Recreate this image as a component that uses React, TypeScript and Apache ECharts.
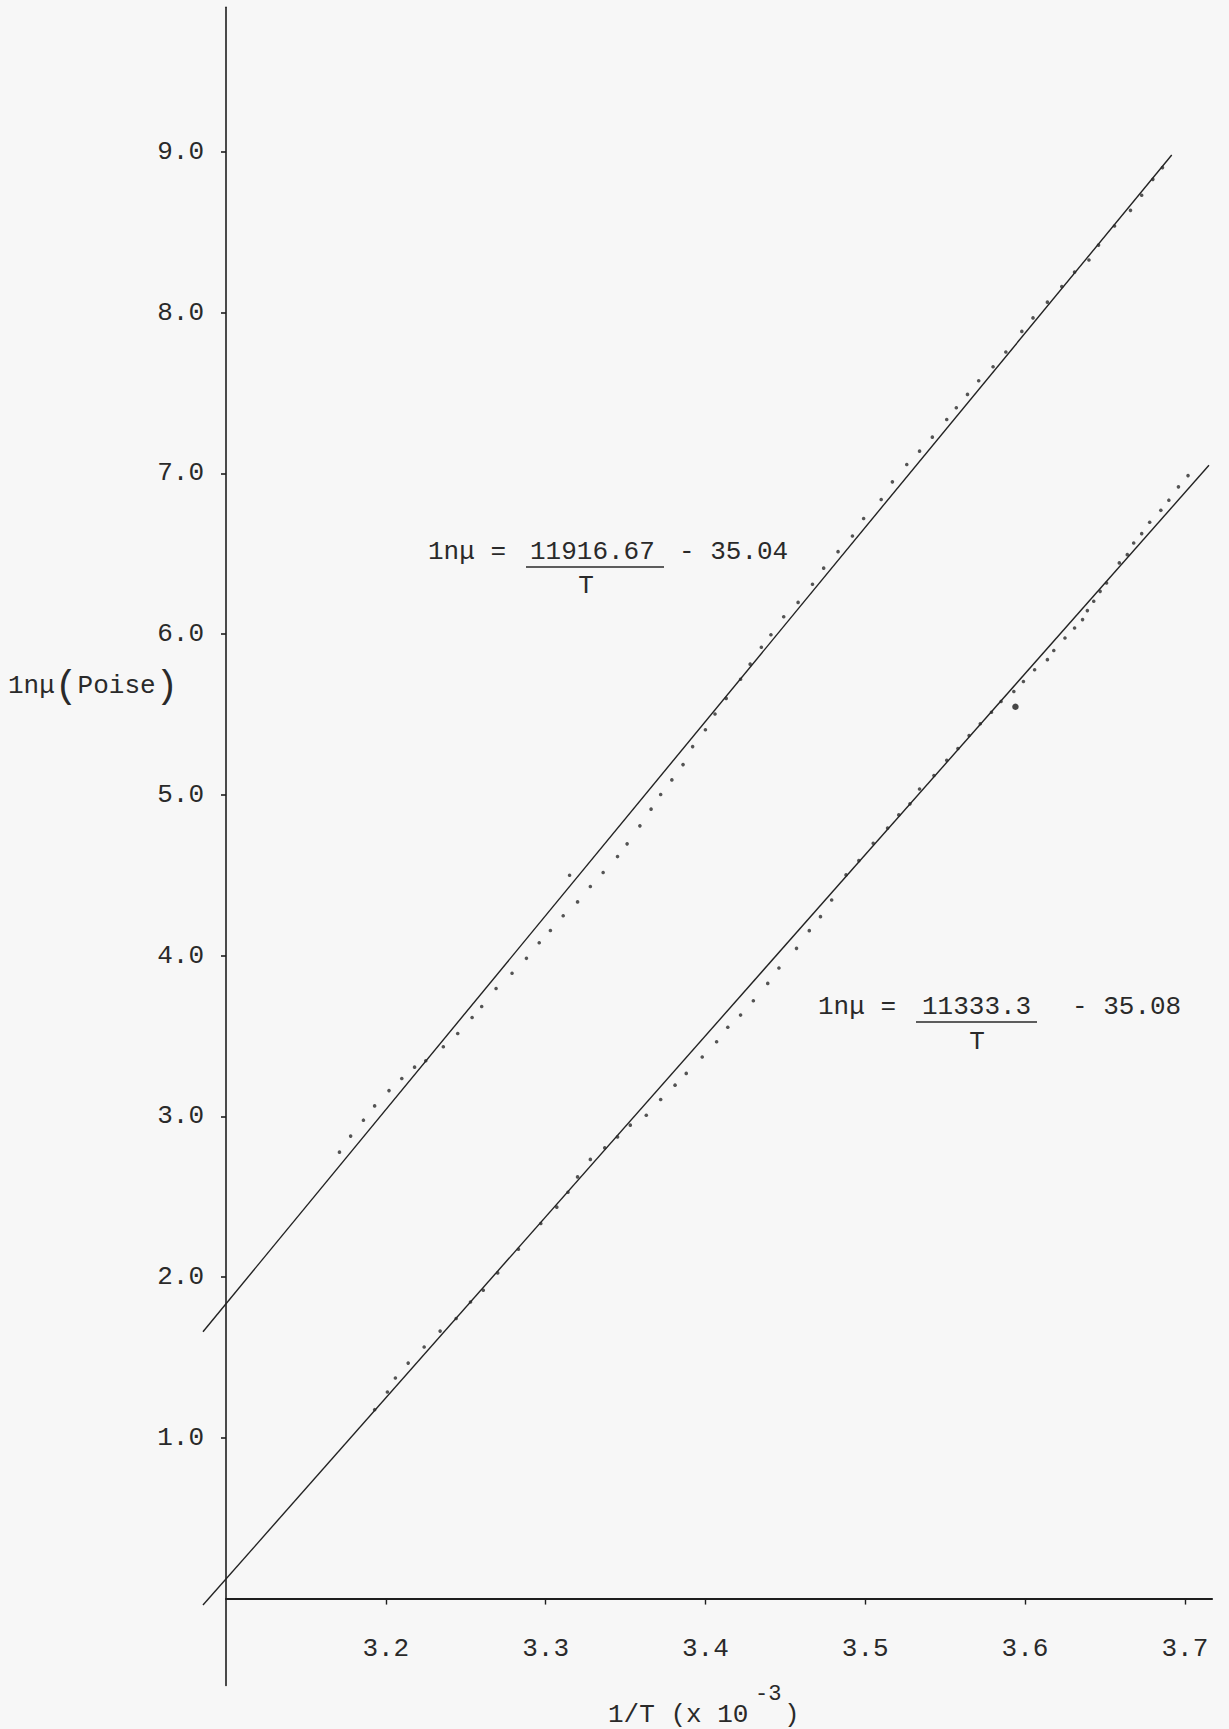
import React, { useEffect, useRef } from "react";
import * as echarts from "echarts";

// ---- data ----
const xTicks = [3.2, 3.3, 3.4, 3.5, 3.6, 3.7];
const yTicks = [1, 2, 3, 4, 5, 6, 7, 8, 9];

// upper data set (x = 1/T x 10^3, y = ln mu)
const upperDots: [number, number][] = [
  [3.171, 2.777], [3.178, 2.877], [3.186, 2.976], [3.193, 3.065], [3.202, 3.16], [3.21, 3.235],
  [3.218, 3.306], [3.225, 3.346], [3.236, 3.433], [3.245, 3.515], [3.254, 3.615], [3.26, 3.683],
  [3.269, 3.795], [3.279, 3.89], [3.288, 3.983], [3.296, 4.08], [3.303, 4.156], [3.311, 4.248],
  [3.315, 4.5], [3.32, 4.334], [3.328, 4.43], [3.336, 4.517], [3.345, 4.616], [3.351, 4.695],
  [3.359, 4.807], [3.366, 4.911], [3.372, 5.002], [3.379, 5.093], [3.386, 5.188], [3.392, 5.3],
  [3.4, 5.405], [3.406, 5.503], [3.413, 5.6], [3.422, 5.719], [3.428, 5.813], [3.435, 5.918],
  [3.441, 5.996], [3.449, 6.108], [3.458, 6.197], [3.467, 6.31], [3.474, 6.41], [3.483, 6.513],
  [3.492, 6.61], [3.499, 6.719], [3.51, 6.837], [3.517, 6.947], [3.526, 7.055], [3.534, 7.138],
  [3.542, 7.225], [3.551, 7.335], [3.557, 7.408], [3.564, 7.491], [3.571, 7.576], [3.58, 7.663],
  [3.588, 7.755], [3.598, 7.883], [3.605, 7.967], [3.614, 8.065], [3.623, 8.162], [3.631, 8.252],
  [3.64, 8.327], [3.646, 8.42], [3.656, 8.539], [3.666, 8.636], [3.673, 8.73], [3.68, 8.829],
  [3.686, 8.902],
];

// lower data set
const lowerDots: [number, number][] = [
  [3.193, 1.175], [3.201, 1.285], [3.206, 1.372], [3.214, 1.465], [3.224, 1.565], [3.234, 1.664],
  [3.244, 1.742], [3.253, 1.845], [3.261, 1.918], [3.27, 2.026], [3.283, 2.173], [3.297, 2.333],
  [3.307, 2.435], [3.314, 2.528], [3.32, 2.623], [3.328, 2.732], [3.337, 2.804], [3.345, 2.872],
  [3.353, 2.945], [3.363, 3.007], [3.372, 3.105], [3.381, 3.194], [3.388, 3.267], [3.398, 3.369],
  [3.407, 3.464], [3.414, 3.554], [3.422, 3.63], [3.43, 3.719], [3.439, 3.827], [3.446, 3.923],
  [3.457, 4.045], [3.465, 4.155], [3.472, 4.242], [3.479, 4.346], [3.488, 4.502], [3.496, 4.591],
  [3.505, 4.699], [3.514, 4.793], [3.521, 4.875], [3.528, 4.944], [3.534, 5.036], [3.543, 5.12],
  [3.551, 5.215], [3.558, 5.288], [3.565, 5.369], [3.572, 5.442], [3.579, 5.514], [3.585, 5.581],
  [3.593, 5.643], [3.599, 5.705], [3.606, 5.778], [3.614, 5.841], [3.618, 5.898], [3.625, 5.976],
  [3.631, 6.038], [3.636, 6.09], [3.639, 6.146], [3.643, 6.204], [3.647, 6.266], [3.651, 6.318],
  [3.659, 6.443], [3.664, 6.494], [3.668, 6.567], [3.673, 6.625], [3.678, 6.696], [3.685, 6.77],
  [3.69, 6.833], [3.696, 6.916], [3.702, 6.986],
];
const lowerOutlier: [number, number][] = [[3.594, 5.548]];

// fitted straight lines as drawn: [x1, y1, x2, y2]
const upperFit: number[] = [3.0856, 1.66, 3.6918, 8.98];
const lowerFit: number[] = [3.0856, -0.04, 3.7151, 7.05];

const X_MIN = 3.1;
const X_MAX = 3.717;
const Y_MIN = -0.54;
const Y_MAX = 9.9;

const FONT = '"Liberation Mono", "DejaVu Sans Mono", monospace';
const INK = "#2a2a2a";

export default function App() {
  const ref = useRef<HTMLDivElement>(null);

  useEffect(() => {
    if (!ref.current) return;
    const chart = echarts.init(ref.current, null, { renderer: "svg" });
    const f = (s: number) => `${s}px ${FONT}`;
    const txt = (text: string, x: number, y: number, align = "left", size = 26) => ({
      type: "text",
      x,
      y,
      silent: true,
      style: { text, font: f(size), fill: INK, textAlign: align, textVerticalAlign: "middle" },
    });
    const uline = (x1: number, x2: number, y: number) => ({
      type: "line",
      silent: true,
      shape: { x1, y1: y, x2, y2: y },
      style: { stroke: INK, lineWidth: 1.6 },
    });
    const fitSeries = (seg: number[]) => ({
      type: "custom",
      clip: false,
      silent: true,
      z: 2,
      data: [seg],
      encode: { x: [0, 2], y: [1, 3] },
      renderItem: (_p: any, api: any) => {
        const a = api.coord([api.value(0), api.value(1)]);
        const b = api.coord([api.value(2), api.value(3)]);
        return {
          type: "line",
          shape: { x1: a[0], y1: a[1], x2: b[0], y2: b[1] },
          style: { stroke: "#222", lineWidth: 1.4, fill: null },
        };
      },
    });

    chart.setOption({
      animation: false,
      backgroundColor: "#f7f7f7",
      grid: {
        left: 226,
        top: 7.175,
        width: 986,
        height: 1678.2,
        containLabel: false,
        outerBoundsMode: "none",
      },
      xAxis: {
        type: "value",
        min: X_MIN,
        max: X_MAX,
        minInterval: 0.1,
        maxInterval: 0.1,
        splitLine: { show: false },
        axisLine: { onZero: true, lineStyle: { color: "#1e1e1e", width: 2.2 } },
        axisTick: { length: 6, customValues: xTicks, lineStyle: { color: "#1e1e1e", width: 1.4 } },
        axisLabel: {
          customValues: xTicks,
          margin: -49,
          fontFamily: FONT,
          fontSize: 26,
          color: INK,
          formatter: (v: number) =>
            v > 3.15 && Math.abs(v * 10 - Math.round(v * 10)) < 1e-6 ? v.toFixed(1) : "",
        },
      },
      yAxis: {
        type: "value",
        min: Y_MIN,
        max: Y_MAX,
        minInterval: 1,
        maxInterval: 1,
        splitLine: { show: false },
        axisLine: { onZero: false, lineStyle: { color: "#1e1e1e", width: 1.6 } },
        axisTick: { length: 5, customValues: yTicks, lineStyle: { color: "#1e1e1e", width: 1.6 } },
        axisLabel: {
          customValues: yTicks,
          margin: 22,
          fontFamily: FONT,
          fontSize: 26,
          color: INK,
          formatter: (v: number) =>
            v >= 0.9 && Math.abs(v - Math.round(v)) < 1e-6 ? v.toFixed(1) : "",
        },
      },
      series: [
        fitSeries(upperFit),
        fitSeries(lowerFit),
        {
          type: "scatter",
          data: upperDots,
          symbol: "circle",
          symbolSize: 3.6,
          itemStyle: { color: "#2a2a2a" },
          z: 3,
        },
        {
          type: "scatter",
          data: lowerDots,
          symbol: "circle",
          symbolSize: 3.6,
          itemStyle: { color: "#2a2a2a" },
          z: 3,
        },
        {
          type: "scatter",
          data: lowerOutlier,
          symbol: "circle",
          symbolSize: 6.5,
          itemStyle: { color: "#1a1a1a" },
          z: 3,
        },
      ],
      graphic: [
        // upper equation
        txt("1nμ =", 428, 552),
        txt("11916.67", 530, 552),
        uline(526, 664, 567),
        txt("T", 586, 586, "center"),
        txt("- 35.04", 679, 552),
        // lower equation
        txt("1nμ =", 818, 1007),
        txt("11333.3", 922, 1007),
        uline(916, 1037, 1022),
        txt("T", 977, 1042, "center"),
        txt("- 35.08", 1072, 1007),
        // y axis name
        {
          type: "text",
          x: 8,
          y: 686,
          silent: true,
          style: {
            text: "{a|1nμ}{p|(}{a|Poise}{p|)}",
            fill: INK,
            textVerticalAlign: "middle",
            rich: {
              a: { fontFamily: FONT, fontSize: 26, fill: INK },
              p: { fontFamily: FONT, fontSize: 38, fill: INK },
            },
          },
        },
        // x axis name
        txt("1/T (x 10", 608, 1715),
        txt("-3", 755, 1694, "left", 22),
        txt(")", 784, 1715),
      ],
    });

    return () => chart.dispose();
  }, []);

  return (
    <div
      ref={ref}
      style={{ position: "absolute", left: 0, top: 0, width: 1229, height: 1729 }}
    />
  );
}
